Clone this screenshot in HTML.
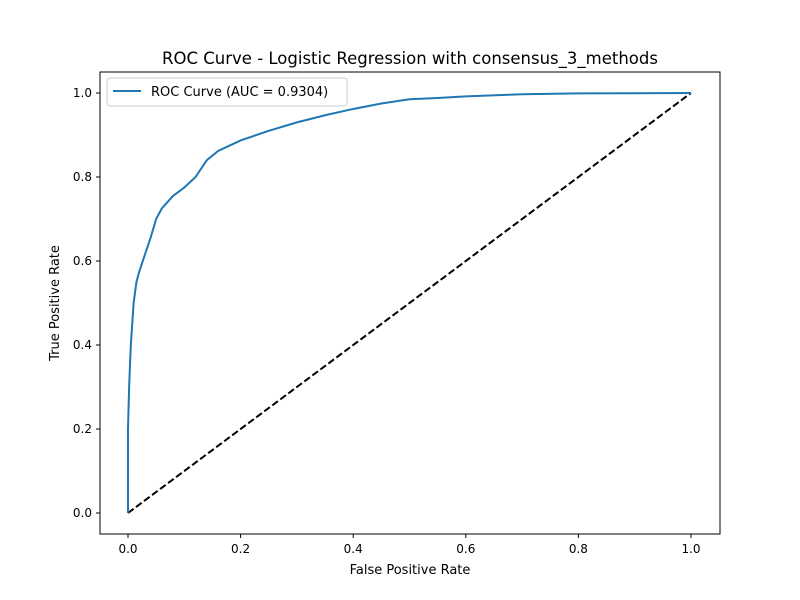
<!DOCTYPE html>
<html><head><meta charset="utf-8"><style>body{margin:0;background:#fff}svg{display:block;font-family:"DejaVu Sans","Liberation Sans",sans-serif}</style></head>
<body>
<svg id="chart" width="800" height="600">
<rect x="0" y="0" width="800" height="600" fill="#fff"/>
<text x="410" y="64" text-anchor="middle" font-size="16.5">ROC Curve - Logistic Regression with consensus_3_methods</text>
<g id="plot"></g>
<rect x="100" y="72" width="620" height="462" fill="none" stroke="#000" stroke-width="1"/>
<text x="410" y="574" text-anchor="middle" font-size="13">False Positive Rate</text>
<text x="59" y="303" text-anchor="middle" font-size="13" transform="rotate(-90 59 303)">True Positive Rate</text>
<g>
<rect x="107" y="78" width="240" height="28" rx="3" fill="#fff" stroke="#ccc"/>
<line x1="113" y1="91" x2="141" y2="91" stroke="#1f77b4" stroke-width="2"/>
<text x="151" y="96" font-size="13">ROC Curve (AUC = 0.9304)</text>
</g>
</svg>
<script>
const fpr=[0,0,0.002,0.005,0.008,0.01,0.015,0.02,0.03,0.04,0.05,0.06,0.08,0.1,0.12,0.14,0.16,0.2,0.25,0.3,0.35,0.4,0.45,0.5,0.55,0.6,0.7,0.8,1];
const tpr=[0,0.2,0.3,0.4,0.46,0.5,0.55,0.575,0.615,0.655,0.7,0.725,0.755,0.775,0.8,0.84,0.862,0.887,0.91,0.93,0.947,0.962,0.975,0.985,0.988,0.992,0.997,0.999,1];
const ticks=[0,0.2,0.4,0.6,0.8,1.0];
const tickLabels=["0.0","0.2","0.4","0.6","0.8","1.0"];
const NS="http://www.w3.org/2000/svg";
const xs=v=>128+v*563, ys=v=>513-v*420;
const g=document.getElementById('plot');
function mk(t,a){const e=document.createElementNS(NS,t);for(const k in a)e.setAttribute(k,a[k]);g.appendChild(e);return e;}
ticks.forEach((t,i)=>{
 const lx=mk('line',{x1:xs(t),x2:xs(t),y1:534,y2:538,stroke:'#000'});
 
 
 const tx=mk('text',{x:xs(t),y:553,'text-anchor':'middle','font-size':12});tx.textContent=tickLabels[i];
 
 
 const ly=mk('line',{x1:96,x2:100,y1:ys(t),y2:ys(t),stroke:'#000'});
 
 
 const ty=mk('text',{x:92,y:ys(t)+4,'text-anchor':'end','font-size':12});ty.textContent=tickLabels[i];
 
 
});
const d=mk('line',{x1:xs(0),y1:ys(0),x2:xs(1),y2:ys(1),stroke:'#000','stroke-width':2,'stroke-dasharray':'7,3'});


const p=mk('polyline',{points:fpr.map((f,i)=>xs(f)+','+ys(tpr[i])).join(' '),fill:'none',stroke:'#1f77b4','stroke-width':2});


</script>
</body></html>
